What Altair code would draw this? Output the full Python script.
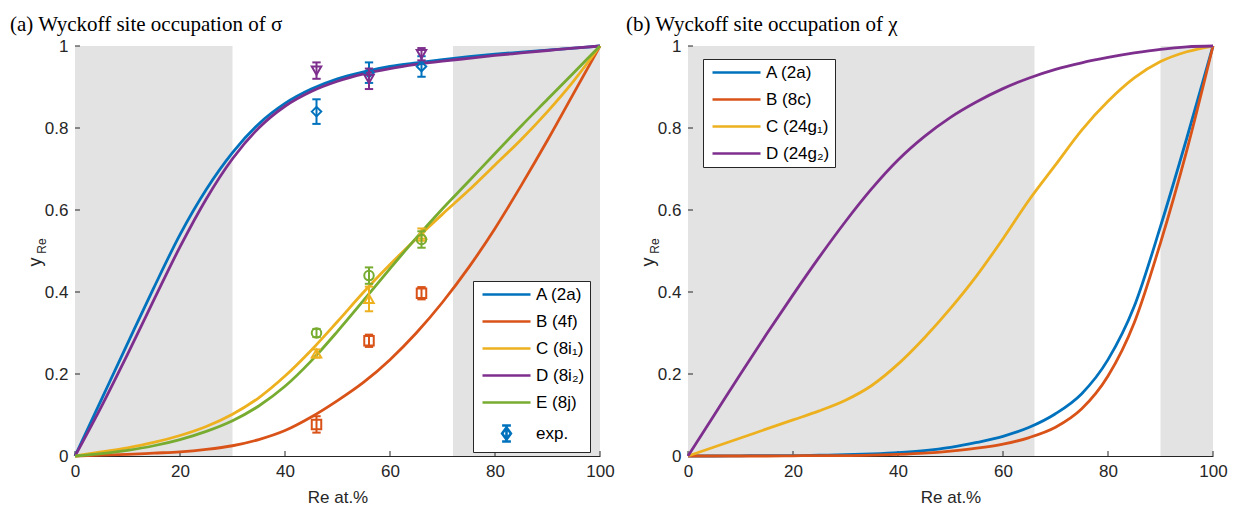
import altair as alt
import pandas as pd

# ---------------- data ----------------
X = [0, 5, 10, 15, 20, 25, 30, 35, 40, 45, 50, 55, 60, 65, 70, 75, 80, 85, 90, 95, 100]

# (a) sigma phase
SIG_A = [0, 0.137, 0.274, 0.41, 0.54, 0.65, 0.74, 0.81, 0.86, 0.895, 0.92, 0.937, 0.95, 0.959, 0.967, 0.974, 0.98, 0.985, 0.99, 0.995, 1.0]
SIG_B = [0, 0.002, 0.004, 0.007, 0.01, 0.016, 0.025, 0.04, 0.062, 0.095, 0.135, 0.18, 0.235, 0.3, 0.375, 0.46, 0.555, 0.66, 0.77, 0.885, 1.0]
SIG_C = [0, 0.01, 0.02, 0.033, 0.05, 0.072, 0.102, 0.142, 0.195, 0.258, 0.328, 0.4, 0.467, 0.53, 0.59, 0.648, 0.71, 0.772, 0.84, 0.915, 1.0]
SIG_D = [0, 0.12, 0.248, 0.38, 0.51, 0.627, 0.725, 0.8, 0.853, 0.889, 0.914, 0.932, 0.945, 0.955, 0.963, 0.97, 0.977, 0.983, 0.989, 0.995, 1.0]
SIG_E = [0, 0.006, 0.014, 0.025, 0.04, 0.06, 0.086, 0.122, 0.17, 0.232, 0.304, 0.38, 0.457, 0.532, 0.603, 0.67, 0.738, 0.805, 0.87, 0.935, 1.0]

# (b) chi phase
CHI_A = [0, 0, 0.0005, 0.001, 0.001, 0.002, 0.003, 0.005, 0.008, 0.013, 0.021, 0.033, 0.048, 0.07, 0.103, 0.152, 0.235, 0.365, 0.56, 0.775, 1.0]
CHI_B = [0, 0, 0, 0, 0.0005, 0.001, 0.001, 0.002, 0.004, 0.007, 0.012, 0.019, 0.029, 0.045, 0.07, 0.115, 0.195, 0.325, 0.52, 0.745, 1.0]
CHI_C = [0, 0.022, 0.044, 0.066, 0.088, 0.11, 0.136, 0.172, 0.224, 0.288, 0.36, 0.44, 0.53, 0.625, 0.71, 0.795, 0.865, 0.922, 0.962, 0.986, 1.0]
CHI_D = [0, 0.1, 0.2, 0.298, 0.393, 0.485, 0.572, 0.652, 0.722, 0.779, 0.826, 0.864, 0.896, 0.922, 0.943, 0.959, 0.972, 0.983, 0.992, 0.998, 1.0]

# experimental points (sigma)
EXP_X = [46, 56, 66]
EXP_A = [0.84, 0.935, 0.95]
EXP_A_ERR = [0.03, 0.025, 0.025]
EXP_B = [0.077, 0.281, 0.397]
EXP_B_ERR = [0.02, 0.015, 0.015]
EXP_C = [0.25, 0.383, 0.54]
EXP_C_ERR = [0.01, 0.03, 0.015]
EXP_D = [0.94, 0.92, 0.98]
EXP_D_ERR = [0.02, 0.025, 0.015]
EXP_E = [0.30, 0.44, 0.528]
EXP_E_ERR = [0.01, 0.02, 0.02]
EXP_MARKERS = ["diamond", "square", "triangle-up", "triangle-down", "circle"]

NAMES_SIG = ["A (2a)", "B (4f)", "C (8i\u2081)", "D (8i\u2082)", "E (8j)"]
NAMES_CHI = ["A (2a)", "B (8c)", "C (24g\u2081)", "D (24g\u2082)"]
EXP_LABEL = "exp."
COLORS = ["#0072BD", "#D95319", "#EDB120", "#7E2F8E", "#77AC30"]

SHADE_SIG_START = [0, 72]
SHADE_SIG_END = [30, 100]
SHADE_CHI_START = [0, 90]
SHADE_CHI_END = [66, 100]

X_TICKS = [0, 20, 40, 60, 80, 100]
Y_TICKS = [0, 0.2, 0.4, 0.6, 0.8, 1.0]

TITLE_SIG = "(a) Wyckoff site occupation of \u03c3"
TITLE_CHI = "(b) Wyckoff site occupation of \u03c7"
X_TITLE = "Re at.%"
Y_MAIN = "y"
Y_SUB = "Re"

# ---------------- style ----------------
W, H = 525, 410
AX = "#262626"
SANS = "Liberation Sans"
SERIF = "Liberation Serif"
# legend symbol paths (unit = half of sqrt(symbolSize) = 4 px)
LINE_PATH = "M-6,0L6,0"
EXP_PATH = ("M0,-2L0,2M-1.1,-2L1.1,-2M-1.1,2L1.1,2"
            "M0,-1.5L1.1,0L0,1.5L-1.1,0Z")


def panel(names, curves, shade_start, shade_end, title, title_dx,
          legend_x, legend_y, exp=None):
    domain = names + ([EXP_LABEL] if exp else [])
    rng = COLORS[:len(names)] + ([COLORS[0]] if exp else [])
    xs = alt.Scale(domain=[0, 100], nice=False, zero=False)
    ys = alt.Scale(domain=[0, 1], nice=False, zero=False)

    x_axis = alt.Axis(values=X_TICKS, title=X_TITLE, ticks=False, grid=False,
                      labelFlush=False, labelPadding=7, titlePadding=10,
                      format="d")
    y_axis = alt.Axis(values=Y_TICKS, title=None, ticks=False, grid=False,
                      labelFlush=False, labelPadding=7, format="~g")

    def xq(f):
        return alt.X(f, scale=xs, axis=x_axis, title=X_TITLE)

    def yq(f):
        return alt.Y(f, scale=ys, axis=y_axis, title=None)

    shade = alt.Chart(pd.DataFrame({"x0": shade_start, "x1": shade_end})).mark_rect(
        color="#e3e3e3").encode(
        x=xq("x0:Q"), x2="x1:Q",
        y=alt.value(0), y2=alt.value(H))

    xt = alt.Chart(pd.DataFrame({"t": X_TICKS})).mark_rule(color=AX, strokeWidth=1).encode(
        x=xq("t:Q"), y=alt.value(H), y2=alt.value(H - 5))
    yt = alt.Chart(pd.DataFrame({"t": Y_TICKS})).mark_rule(color=AX, strokeWidth=1).encode(
        y=yq("t:Q"), x=alt.value(0), x2=alt.value(5))

    layers = [shade, xt, yt]

    for k, (name, vals) in enumerate(zip(names, curves)):
        ldf = pd.DataFrame({"x": X, "y": vals})
        layers.append(alt.Chart(ldf).mark_line(
            strokeWidth=2.8, interpolate="monotone", color=COLORS[k]).encode(
            x=xq("x:Q"), y=yq("y:Q"), order="x:Q"))

    if exp:
        for k, (name, (vals, errs)) in enumerate(zip(names, exp)):
            edf = pd.DataFrame({"x": EXP_X, "y": vals, "e": errs})
            base = alt.Chart(edf).transform_calculate(
                lo="datum.y - datum.e", hi="datum.y + datum.e")
            col = COLORS[k]
            layers.append(base.mark_rule(strokeWidth=2, color=col).encode(
                x=xq("x:Q"), y=yq("lo:Q"), y2="hi:Q"))
            for end in ("lo:Q", "hi:Q"):
                layers.append(base.mark_point(
                    shape="stroke", size=70, strokeWidth=2, filled=False,
                    opacity=1, color=col).encode(x=xq("x:Q"), y=yq(end)))
            layers.append(base.mark_point(
                shape=EXP_MARKERS[k], filled=False, strokeWidth=2, size=90,
                opacity=1, color=col).encode(x=xq("x:Q"), y=yq("y:Q")))

    # legend-only layer: entries have no position, so nothing is drawn,
    # the legend is built from the explicit scale domains
    shapes = [LINE_PATH] * len(names) + ([EXP_PATH] if exp else [])
    leg = alt.Legend(title=None, orient="none", legendX=legend_x, legendY=legend_y,
                     labelFont=SANS, labelFontSize=17, labelColor="#000000",
                     symbolSize=64, symbolStrokeWidth=2.6, symbolOffset=20,
                     symbolFillColor="transparent", symbolOpacity=1,
                     strokeColor=AX, fillColor="white", padding=5,
                     rowPadding=9, labelOffset=21, cornerRadius=0)
    leg_df = pd.DataFrame({"series": domain,
                           "x": [None] * len(domain), "y": [None] * len(domain)})
    legend_layer = alt.Chart(leg_df).mark_point(
        filled=False, strokeWidth=2.6, opacity=1).encode(
        x=xq("x:Q"), y=yq("y:Q"),
        color=alt.Color("series:N", scale=alt.Scale(domain=domain, range=rng), legend=leg),
        shape=alt.Shape("series:N", scale=alt.Scale(domain=domain, range=shapes),
                        legend=leg))
    layers.append(legend_layer)

    ymain = alt.Chart(pd.DataFrame({"t": [Y_MAIN]})).mark_text(
        angle=270, font=SANS, fontSize=18, color=AX, align="center", baseline="middle").encode(
        x=alt.value(-39), y=alt.value(216), text="t:N")
    ysub = alt.Chart(pd.DataFrame({"t": [Y_SUB]})).mark_text(
        angle=270, font=SANS, fontSize=12, color=AX, align="center", baseline="middle").encode(
        x=alt.value(-33), y=alt.value(200), text="t:N")
    layers += [ymain, ysub]

    return alt.layer(*layers).properties(
        width=W, height=H,
        title=alt.TitleParams(title, anchor="start", frame="group", dx=title_dx,
                              font=SERIF, fontSize=21, fontWeight="normal",
                              color="#000000", offset=2))


pa = panel(NAMES_SIG, [SIG_A, SIG_B, SIG_C, SIG_D, SIG_E],
           SHADE_SIG_START, SHADE_SIG_END, TITLE_SIG, -65, 398, 235,
           exp=[(EXP_A, EXP_A_ERR), (EXP_B, EXP_B_ERR), (EXP_C, EXP_C_ERR),
                (EXP_D, EXP_D_ERR), (EXP_E, EXP_E_ERR)])
pb = panel(NAMES_CHI, [CHI_A, CHI_B, CHI_C, CHI_D],
           SHADE_CHI_START, SHADE_CHI_END, TITLE_CHI, -62, 15, 13)

chart = alt.hconcat(pa, pb, spacing=11).resolve_scale(
    color="independent", shape="independent",
    x="independent", y="independent"
).resolve_legend(color="independent", shape="independent").configure_view(
    stroke=None
).configure_axis(
    labelFont=SANS, labelFontSize=17, labelColor=AX,
    titleFont=SANS, titleFontSize=17, titleFontWeight="normal", titleColor=AX,
    domainColor=AX, domainWidth=1
).properties(padding={"left": 10, "top": 14, "right": 0, "bottom": 0})

chart.save("out.html", embed_options={"renderer": "svg", "actions": False})
